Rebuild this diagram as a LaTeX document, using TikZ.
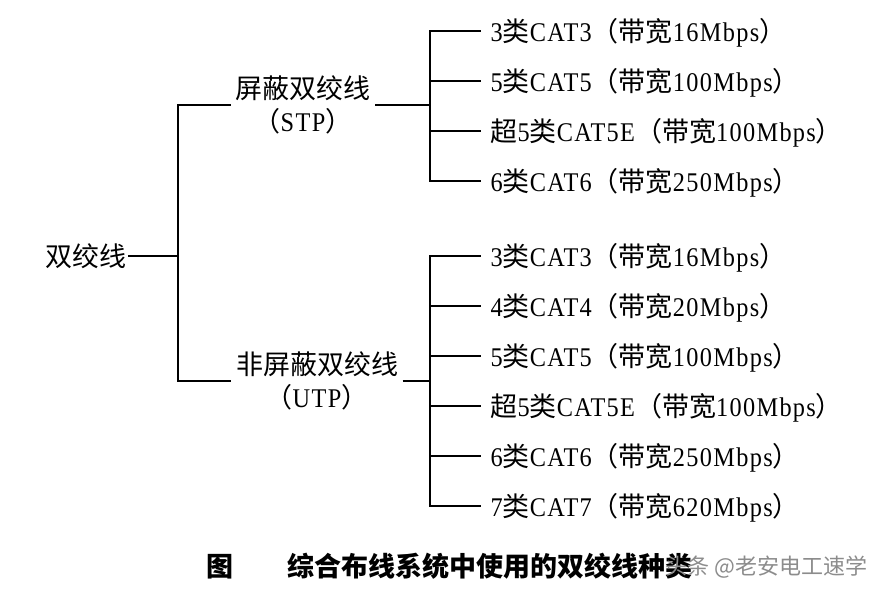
\documentclass[tikz,border=0pt]{standalone}
\usepackage{fontspec}
\setmainfont{Liberation Serif}[FakeStretch=0.9,LetterSpace=5]
\newfontfamily\cjk{Noto Sans CJK SC}
\newcommand\zhtxt[1]{{\cjk #1}}
\begin{document}
\begin{tikzpicture}[x=1pt,y=-1pt,line width=1.2pt,
  every node/.style={inner sep=0pt,font=\fontsize{27}{33}\selectfont},
  rootbox/.style={inner xsep=1pt,text height=22pt,text depth=1.4pt},
  midbox/.style={align=center,inner xsep=4pt},
  leaf/.style={anchor=west,inner xsep=9pt,text height=22pt,text depth=1.4pt},
  captxt/.style={anchor=west,font=\fontsize{27}{30}\selectfont\cjk\bfseries,text height=22pt,text depth=1.4pt},
  marktxt/.style={anchor=west,text=black!45,font=\fontsize{22}{26}\selectfont\cjk,text height=18pt,text depth=1.2pt}]
\useasboundingbox[fill=white] (0,0) rectangle (889,591);
% nodes
\node[rootbox] (root) at (86,256) {\zhtxt{双绞线}};
\node[midbox] (stp) at (303,105) {\zhtxt{屏蔽双绞线}\\\zhtxt{（}STP\zhtxt{）}};
\node[midbox] (utp) at (317,381) {\zhtxt{非屏蔽双绞线}\\\zhtxt{（}UTP\zhtxt{）}};
\coordinate (trunk) at (178,256);
\coordinate (sb) at (430,105);
\coordinate (ub) at (430,381);
\node[leaf] (s1) at (481,31)  {3\zhtxt{类}CAT3\zhtxt{（带宽}16Mbps\zhtxt{）}};
\node[leaf] (s2) at (481,81)  {5\zhtxt{类}CAT5\zhtxt{（带宽}100Mbps\zhtxt{）}};
\node[leaf] (s3) at (481,131) {\zhtxt{超}5\zhtxt{类}CAT5E\zhtxt{（带宽}100Mbps\zhtxt{）}};
\node[leaf] (s4) at (481,181) {6\zhtxt{类}CAT6\zhtxt{（带宽}250Mbps\zhtxt{）}};
\node[leaf] (u1) at (481,256) {3\zhtxt{类}CAT3\zhtxt{（带宽}16Mbps\zhtxt{）}};
\node[leaf] (u2) at (481,306) {4\zhtxt{类}CAT4\zhtxt{（带宽}20Mbps\zhtxt{）}};
\node[leaf] (u3) at (481,356) {5\zhtxt{类}CAT5\zhtxt{（带宽}100Mbps\zhtxt{）}};
\node[leaf] (u4) at (481,406) {\zhtxt{超}5\zhtxt{类}CAT5E\zhtxt{（带宽}100Mbps\zhtxt{）}};
\node[leaf] (u5) at (481,456) {6\zhtxt{类}CAT6\zhtxt{（带宽}250Mbps\zhtxt{）}};
\node[leaf] (u6) at (481,506) {7\zhtxt{类}CAT7\zhtxt{（带宽}620Mbps\zhtxt{）}};
\node[captxt] (cap) at (206,566) {图　　综合布线系统中使用的双绞线种类};
\node[marktxt] (mark) at (665,566) {头条 @老安电工速学};
% connectors
\draw (root.east) -- (trunk);
\draw (stp.west) -| (trunk) |- (utp.west);
\draw (stp.east) -- (sb);
\draw (utp.east) -- (ub);
\foreach \n in {s1,s2,s3,s4} \draw (sb) |- (\n.west);
\foreach \n in {u1,u2,u3,u4,u5,u6} \draw (ub) |- (\n.west);
\end{tikzpicture}
\end{document}
